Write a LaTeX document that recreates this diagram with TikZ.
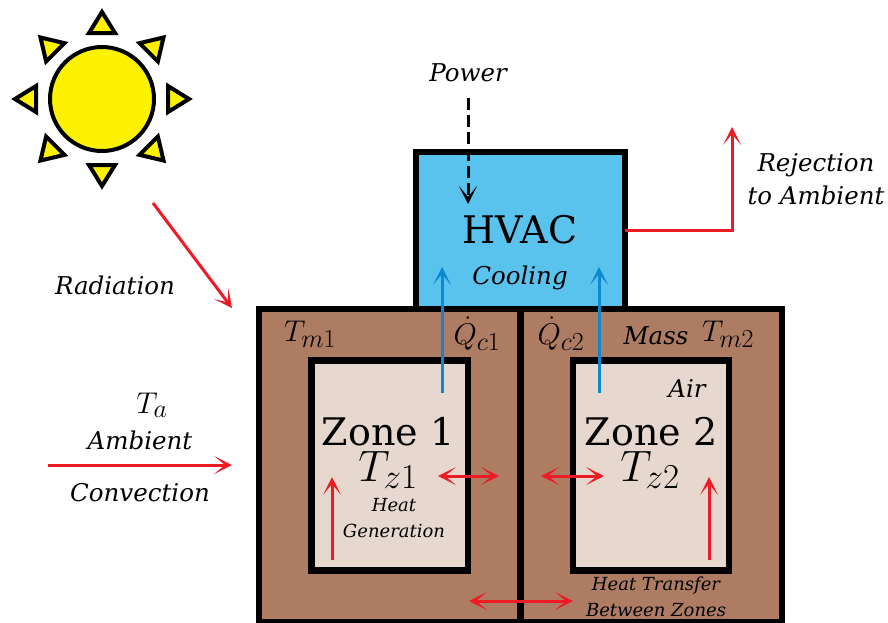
\documentclass[tikz,border=0pt]{standalone}
\usepackage{fix-cm}
\usepackage{fontspec}
\setmainfont{DejaVu Serif}
\newfontfamily\labelfont{DejaVu Serif}
\usepackage{xcolor}
\usetikzlibrary{
  arrows.meta,
  positioning
}
\definecolor{hvacblue}{HTML}{59C2ED}
\definecolor{coolblue}{HTML}{0B88CF}
\definecolor{massbrown}{HTML}{AD7C63}
\definecolor{airtan}{HTML}{E7D8CF}
\definecolor{heatred}{HTML}{ED1C24}
\definecolor{sunyellow}{HTML}{FFF200}
\newcommand{\fsz}[1]{\fontsize{#1}{#1}\selectfont}
\DeclareMathSizes{30}{30}{26}{20}
\DeclareMathSizes{44}{44}{35}{24}

\begin{document}
\begin{tikzpicture}[x=1pt, y=-1pt,
    every node/.style={inner sep=0pt, outer sep=0pt},
    room/.style={draw, line width=6.5pt, rectangle},
    label/.style={font=\labelfont\itshape\fsz{24.5}, text centered, align=center},
    smalllabel/.style={font=\labelfont\itshape\fsz{18}, text centered, align=center},
    bigtext/.style={font=\fsz{38}},
    bigmath/.style={font=\fsz{44}},
    mathtext/.style={font=\fsz{30}},
    flowtip/.style={-{Stealth[length=18pt, width=18pt, inset=11pt]}},
    heat/.style={draw=heatred, line width=3pt, flowtip},
    heatboth/.style={draw=heatred, line width=3pt, {Stealth[length=18pt, width=18pt, inset=11pt]}-{Stealth[length=18pt, width=18pt, inset=11pt]}},
    cool/.style={draw=coolblue, line width=3pt, flowtip},
    sunray/.style={draw, fill=sunyellow, line width=4pt, line join=miter}]
\useasboundingbox (0,0) rectangle (888,622);

% building
\node [room, fill=massbrown, minimum width=261.5pt, minimum height=313pt] (mass1) at (389.75,465.5) {};
\node [room, fill=massbrown, minimum width=261.5pt, minimum height=313pt] (mass2) at (651.25,465.5) {};
\node [room, fill=hvacblue, minimum width=209pt, minimum height=157pt] (hvac) at (520.5,230.5) {};
\node [room, fill=airtan, minimum width=156.5pt, minimum height=210pt] (zone1) at (389.75,465.5) {};
\node [room, fill=airtan, minimum width=156pt, minimum height=210pt] (zone2) at (651,465.5) {};

% sun
\node [draw, fill=sunyellow, line width=4pt, circle, minimum size=104pt] (sun) at (102,99) {};
\begin{scope}[shift={(sun.center)}]
\foreach \a in {0,45,...,315}
  \draw [sunray, rotate=\a] (66pt,-13pt) -- (87pt,0pt) -- (66pt,13pt) -- cycle;
\end{scope}

% texts
\node [bigtext] (hvactext) at (520,230) {HVAC};
\node [label] (cooling) at (520,278) {Cooling};
\node [label] (power) at (468,73) {Power};
\node [label] (reject) at (816,179) {Rejection\\[8.5pt]to Ambient};
\node [label] (radiation) at (115,285) {Radiation};
\node [mathtext] (ta) at (152,405) {$T_a$};
\node [label] (ambient) at (140,440) {Ambient};
\node [label] (convection) at (140,493) {Convection};
\node [mathtext] (tm1) at (310,334) {$T_{m1}$};
\node [mathtext] (qc1) at (477,334) {$\dot{Q}_{c1}$};
\node [mathtext] (qc2) at (561,334) {$\dot{Q}_{c2}$};
\node [label] (masstext) at (656,336) {Mass};
\node [mathtext] (tm2) at (728,334) {$T_{m2}$};
\node [label] (air) at (687,388) {Air};
\node [bigtext] (zonetext1) at (388,432) {Zone 1};
\node [bigmath] (tz1) at (388,470) {$T_{z1}$};
\node [smalllabel] (gen) at (394,518) {Heat\\[8pt]Generation};
\node [bigtext] (zonetext2) at (651,432) {Zone 2};
\node [bigmath] (tz2) at (650,470) {$T_{z2}$};
\node [smalllabel] (between) at (656,597) {Heat Transfer\\[8pt]Between Zones};

% free ends of the flows
\coordinate (radfrom) at (153,203);
\coordinate (radto) at (232,308);
\coordinate (convfrom) at (48,465);
\coordinate (convto) at (232,465);
\coordinate (powerfrom) at (468,98);
\coordinate (powerto) at (468,204);
\coordinate (rejectto) at (732,127);
\coordinate (cool1from) at (442,393);
\coordinate (cool1to) at (442,267);
\coordinate (cool2from) at (599,393);
\coordinate (cool2to) at (599,267);
\coordinate (wall1a) at (438,476);
\coordinate (wall1b) at (499,476);
\coordinate (wall2a) at (541,476);
\coordinate (wall2b) at (604,476);
\coordinate (acrossa) at (469,601);
\coordinate (acrossb) at (573,601);
\coordinate (gen1from) at (332,560);
\coordinate (gen1to) at (332,477);
\coordinate (gen2from) at (709,560);
\coordinate (gen2to) at (709,477);

% flows
\draw [heat] (radfrom) -- (radto);
\draw [heat] (convfrom) -- (convto);
\draw [line width=3pt, dash pattern=on 12pt off 5pt, flowtip] (powerfrom) -- (powerto);
\draw [heat] (hvac.east) -- (rejectto |- hvac.east) -- (rejectto);
\draw [cool] (cool1from) -- (cool1to);
\draw [cool] (cool2from) -- (cool2to);
\draw [heatboth] (wall1a) -- (wall1b);
\draw [heatboth] (wall2a) -- (wall2b);
\draw [heatboth] (acrossa) -- (acrossb);
\draw [heat] (gen1from) -- (gen1to);
\draw [heat] (gen2from) -- (gen2to);
\end{tikzpicture}
\end{document}
